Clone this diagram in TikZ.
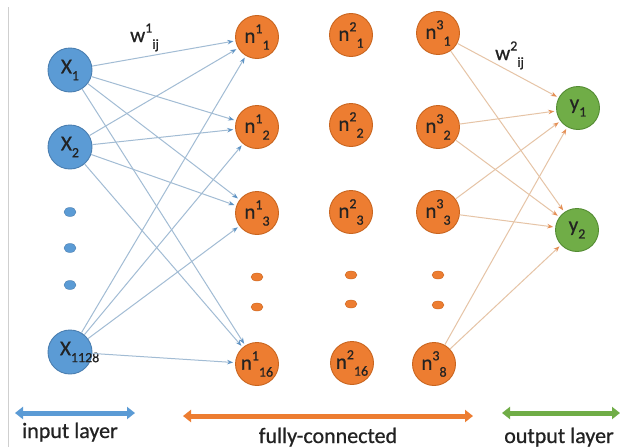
\documentclass[tikz,border=0pt]{standalone}
\usepackage{fontspec}
\setmainfont{Carlito}[FakeBold=0.7]
\usetikzlibrary{arrows.meta,shapes.geometric}
\definecolor{bfill}{HTML}{5B9BD5}
\definecolor{bdraw}{HTML}{4A7EB0}
\definecolor{ofill}{HTML}{ED7D31}
\definecolor{odraw}{HTML}{C9651F}
\definecolor{gfill}{HTML}{70AD47}
\definecolor{gdraw}{HTML}{548C33}
\definecolor{bline}{HTML}{A2BCD4}
\definecolor{bhead}{HTML}{5E93C4}
\definecolor{oline}{HTML}{E6C4A6}
\definecolor{ohead}{HTML}{E58F55}
\definecolor{txt}{HTML}{222222}
\definecolor{edge}{HTML}{CFCFCF}
\newcommand\lsub[1]{\raisebox{-0.33em}{\fontsize{14}{14}\selectfont #1}}
\newcommand\lsup[1]{\raisebox{0.45em}{\fontsize{14}{14}\selectfont #1}}
\begin{document}
\begin{tikzpicture}[x=1pt,y=-1pt,
  neuron/.style={circle, minimum size=44pt, inner sep=0pt, line width=0.9pt,
    font=\fontsize{21}{21}\selectfont, text=txt},
  bnode/.style={neuron, fill=bfill, draw=bdraw},
  onode/.style={neuron, fill=ofill, draw=odraw, minimum size=43pt},
  gnode/.style={neuron, fill=gfill, draw=gdraw, minimum size=43pt},
  bdot/.style={ellipse, fill=bfill, draw=bdraw, line width=0.4pt, minimum width=12pt, minimum height=9pt, inner sep=0pt},
  odot/.style={ellipse, fill=ofill, draw=odraw, line width=0.4pt, minimum width=12pt, minimum height=8pt, inner sep=0pt},
  bconn/.style={draw=bline, line width=1pt, shorten >=2pt, -{Stealth[length=6pt,width=4.5pt,color=bhead]}},
  oconn/.style={draw=oline, line width=1pt, shorten >=2pt, -{Stealth[length=6pt,width=4.5pt,color=ohead]}},
  bigarrow/.style={line width=5pt, {Triangle[length=8pt,width=12pt]}-{Triangle[length=8pt,width=12pt]}},
  lab/.style={text=txt, font=\fontsize{22}{22}\selectfont, inner sep=0pt, anchor=base},
  wlab/.style={text=txt, font=\fontsize{21}{21}\selectfont, inner sep=0pt, anchor=base west}
]
\useasboundingbox (0,0) rectangle (621,447);
\fill[white] (0,0) rectangle (621,447);
\draw[edge, line width=1pt] (8,7) -- (8,447);

% input layer
\node[bnode] (x1) at (70,70) {\makebox[0pt]{X\lsub{1}}};
\node[bnode] (x2) at (70,147) {\makebox[0pt]{X\lsub{2}}};
\node[bdot] (bd1) at (70,212) {};
\node[bdot] (bd2) at (70,248) {};
\node[bdot] (bd3) at (70,285) {};
\node[bnode] (x3) at (70,352) {\makebox[0pt][l]{\kern-10pt X\lsub{1128}}};

% hidden layer 1
\node[onode] (a1) at (257,37) {\makebox[0pt]{n\lsup{1}\lsub{1}}};
\node[onode] (a2) at (257,127) {\makebox[0pt]{n\lsup{1}\lsub{2}}};
\node[onode] (a3) at (257,213) {\makebox[0pt]{n\lsup{1}\lsub{3}}};
\node[odot] (ad1) at (257,277) {};
\node[odot] (ad2) at (257,307) {};
\node[onode] (a4) at (257,364) {\makebox[0pt]{n\lsup{1}\lsub{16}}};

% hidden layer 2
\node[onode] (b1) at (351,35) {\makebox[0pt]{n\lsup{2}\lsub{1}}};
\node[onode] (b2) at (351,125) {\makebox[0pt]{n\lsup{2}\lsub{2}}};
\node[onode] (b3) at (351,212) {\makebox[0pt]{n\lsup{2}\lsub{3}}};
\node[odot] (bdd1) at (351,275) {};
\node[odot] (bdd2) at (351,304) {};
\node[onode] (b4) at (352,363) {\makebox[0pt]{n\lsup{2}\lsub{16}}};

% hidden layer 3
\node[onode] (c1) at (438,33) {\makebox[0pt]{n\lsup{3}\lsub{1}}};
\node[onode] (c2) at (438,127) {\makebox[0pt]{n\lsup{3}\lsub{2}}};
\node[onode] (c3) at (438,212) {\makebox[0pt]{n\lsup{3}\lsub{3}}};
\node[odot] (cd1) at (438,275) {};
\node[odot] (cd2) at (438,305) {};
\node[onode] (c4) at (434,364) {\makebox[0pt]{n\lsup{3}\lsub{8}}};

% output layer
\node[gnode] (y1) at (578,108) {\makebox[0pt]{y\lsub{1}}};
\node[gnode] (y2) at (577,230) {\makebox[0pt]{y\lsub{2}}};

% connections input -> hidden 1
\foreach \s in {x1,x2,x3}
  \foreach \t in {a1,a2,a3,a4}
    \draw[bconn] (\s) -- (\t);

% connections hidden 3 -> output
\foreach \s in {c1,c2,c3,c4}
  \foreach \t in {y1,y2}
    \draw[oconn] (\s) -- (\t);

% weight labels
\node[wlab] (w1) at (130,42) {w\lsup{1}\lsub{ij}};
\node[wlab] (w2) at (495,60) {w\lsup{2}\lsub{ij}};

% bottom layer arrows
\coordinate (ia) at (15,413);
\coordinate (ib) at (135,413);
\coordinate (fa) at (183,416);
\coordinate (fb) at (473,416);
\coordinate (oa) at (502,413);
\coordinate (ob) at (620,413);
\draw[bigarrow, draw=bfill, fill=bfill] (ia) -- (ib);
\draw[bigarrow, draw=ofill, fill=ofill] (fa) -- (fb);
\draw[bigarrow, draw=gfill, fill=gfill] (oa) -- (ob);

\node[lab] (il) at (70,438) {input layer};
\node[lab] (fl) at (328,443) {fully-connected};
\node[lab] (ol) at (559,443) {output layer};
\end{tikzpicture}
\end{document}
